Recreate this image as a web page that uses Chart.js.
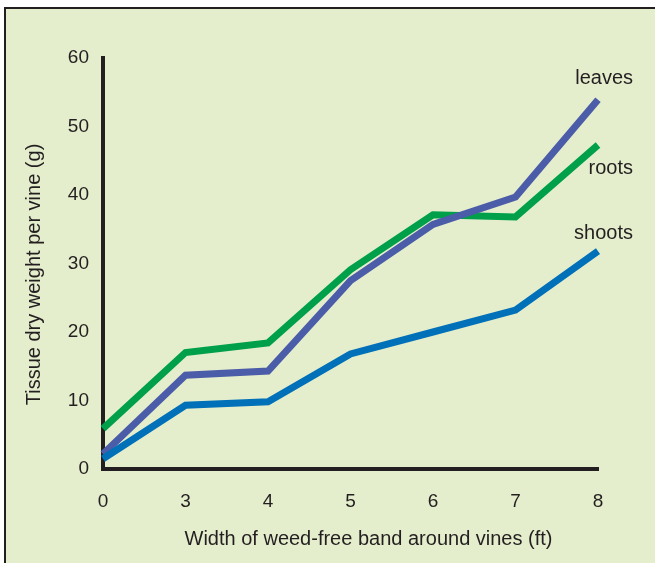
<!DOCTYPE html>
<html>
<head>
<meta charset="utf-8">
<script src="https://cdn.jsdelivr.net/npm/chart.js@4"></script>
<style>
  body { margin: 0; background: #fff; overflow: hidden; }
  #box { position: absolute; left: 4px; top: 7px; width: 700px; height: 600px; background: #e4edcc; border: 2px solid #231f20; }
  #wrap { position: absolute; left: 0; top: 0; width: 655px; height: 563px; }
</style>
</head>
<body>
<div id="box"></div>
<div id="wrap"><canvas id="myChart" width="655" height="563"></canvas></div>
<script>
// data
var widths = ['0', '3', '4', '5', '6', '7', '8'];
var roots = [5.9, 17.0, 18.4, 29.1, 37.1, 36.8, 47.3];
var leaves = [2.2, 13.7, 14.3, 27.5, 35.7, 39.7, 53.9];
var shoots = [1.5, 9.3, 9.8, 16.8, 20.0, 23.2, 31.8];
var yTicks = [0, 10, 20, 30, 40, 50, 60];

var ink = '#231f20';
var fontName = '"Liberation Sans", Arial, sans-serif';

// end-of-line labels + axis titles
var labelPlugin = {
  id: 'lineLabels',
  afterDatasetsDraw: function (chart) {
    var ctx = chart.ctx;
    ctx.save();
    ctx.fillStyle = ink;
    ctx.font = '20px ' + fontName;
    ctx.textAlign = 'right';
    ctx.textBaseline = 'middle';
    var shift = { leaves: -21, roots: 23, shoots: -18 };
    chart.data.datasets.forEach(function (ds, i) {
      var pts = chart.getDatasetMeta(i).data;
      var last = pts[pts.length - 1];
      ctx.fillText(ds.label, last.x + 35, last.y + shift[ds.label]);
    });
    var area = chart.chartArea;
    ctx.textAlign = 'center';
    ctx.textBaseline = 'alphabetic';
    ctx.fillText('Width of weed-free band around vines (ft)', (area.left + area.right) / 2 + 18, 545);
    // y title
    ctx.translate(40, (area.top + area.bottom) / 2 + 11);
    ctx.rotate(-Math.PI / 2);
    ctx.fillText('Tissue dry weight per vine (g)', 0, 0);
    ctx.restore();
  }
};

new Chart('myChart', {
  type: 'line',
  data: {
    labels: widths,
    datasets: [
      { label: 'shoots', data: shoots, borderColor: '#0070b9' },
      { label: 'leaves', data: leaves, borderColor: '#4b5ca8' },
      { label: 'roots', data: roots, borderColor: '#00a04b' }
    ]
  },
  options: {
    responsive: false,
    animation: false,
    events: [],
    layout: { padding: { left: 16, top: 58, right: 57, bottom: 0 } },
    elements: {
      line: { borderWidth: 7, tension: 0, fill: false, borderJoinStyle: 'miter', borderCapStyle: 'butt' },
      point: { radius: 0 }
    },
    plugins: { legend: { display: false }, tooltip: { enabled: false } },
    scales: {
      x: {
        offset: false,
        grid: { color: 'transparent', drawTicks: false },
        border: { display: true, color: ink, width: 4 },
        ticks: { color: ink, font: { family: fontName, size: 19 }, padding: 21, maxRotation: 0 },
        afterFit: function (s) { s.height = 94; }
      },
      y: {
        min: 0,
        max: 60,
        grid: { color: 'transparent', drawTicks: false },
        border: { display: true, color: ink, width: 4 },
        afterBuildTicks: function (s) { s.ticks = yTicks.map(function (v) { return { value: v }; }); },
        ticks: { color: ink, font: { family: fontName, size: 19 }, padding: 14 },
        afterFit: function (s) { s.width = 87; }
      }
    }
  },
  plugins: [labelPlugin]
});
</script>
</body>
</html>
